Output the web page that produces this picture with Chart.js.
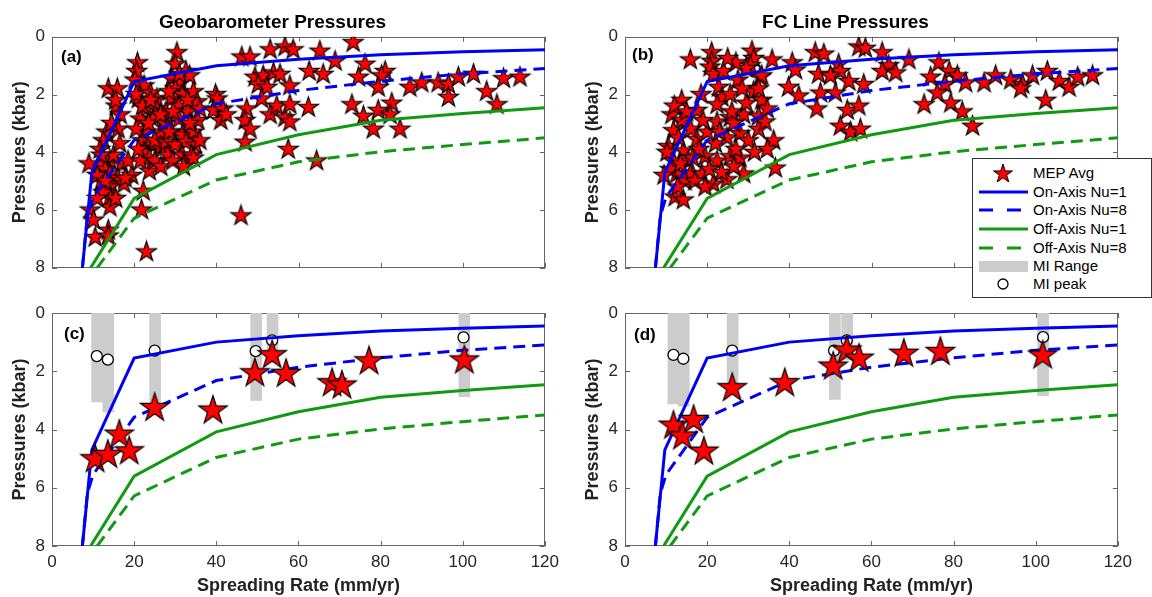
<!DOCTYPE html>
<html>
<head>
<meta charset="utf-8">
<script src="https://cdn.jsdelivr.net/npm/chart.js@4.4.0/dist/chart.umd.min.js"></script>
<style>
  body { margin: 0; background: #fff; width: 1152px; height: 597px; overflow: hidden; position: relative;
         font-family: "Liberation Sans", Arial, Helvetica, sans-serif; }
  canvas { position: absolute; }
  .tag { position: absolute; font-weight: bold; font-size: 17px; color: #000; line-height: 17px; }
  #legend { position: absolute; left: 972px; top: 158px; width: 178px; height: 138px; border: 1px solid #333;
            background: #fff; font-size: 15px; color: #000; z-index: 5; }
  .row { position: absolute; left: 0; width: 178px; height: 18px; }
  .row svg { position: absolute; left: 6px; top: 0; }
  .row span { position: absolute; left: 60px; top: 0; line-height: 18px; }
</style>
</head>
<body>
<canvas id="pa" width="565" height="285" style="left:0;top:0"></canvas>
<canvas id="pb" width="565" height="285" style="left:573px;top:0"></canvas>
<canvas id="pc" width="565" height="307" style="left:0;top:290px"></canvas>
<canvas id="pd" width="565" height="307" style="left:573px;top:290px"></canvas>

<div class="tag" style="left:61px;top:48px">(a)</div>
<div class="tag" style="left:632px;top:46px">(b)</div>
<div class="tag" style="left:64px;top:325px">(c)</div>
<div class="tag" style="left:634px;top:326px">(d)</div>

<div id="legend">
  <div class="row" style="top:5px"><svg width="50" height="18"><polygon id="legStar" fill="#ff0000" stroke="#000" stroke-width="1"/></svg><span>MEP Avg</span></div>
  <div class="row" style="top:24px"><svg width="50" height="18"><line x1="0" y1="9" x2="49" y2="9" stroke="#0000f5" stroke-width="3"/></svg><span>On-Axis Nu=1</span></div>
  <div class="row" style="top:42px"><svg width="50" height="18"><line x1="0" y1="9" x2="49" y2="9" stroke="#0000f5" stroke-width="3" stroke-dasharray="14 14"/></svg><span>On-Axis Nu=8</span></div>
  <div class="row" style="top:61px"><svg width="50" height="18"><line x1="0" y1="9" x2="49" y2="9" stroke="#119a11" stroke-width="3"/></svg><span>Off-Axis Nu=1</span></div>
  <div class="row" style="top:80px"><svg width="50" height="18"><line x1="0" y1="9" x2="49" y2="9" stroke="#119a11" stroke-width="3" stroke-dasharray="14 14"/></svg><span>Off-Axis Nu=8</span></div>
  <div class="row" style="top:98px"><svg width="50" height="18"><rect x="0" y="4" width="49" height="11" fill="#cccccc"/></svg><span>MI Range</span></div>
  <div class="row" style="top:116px"><svg width="50" height="18"><circle cx="24" cy="9" r="5" fill="#fff" stroke="#000" stroke-width="1.3"/></svg><span>MI peak</span></div>
</div>

<script>
// ---- model curves (same in every panel) ----
const onNu1Rate  = [7.4, 9.7, 20, 40, 60, 80, 100, 120];
const onNu1P     = [8.0, 4.7, 1.55, 1.0, 0.78, 0.62, 0.52, 0.45];
const onNu8Rate  = [7.4, 8.6, 10, 20, 40, 60, 80, 100, 120];
const onNu8P     = [8.0, 6.2, 5.55, 3.58, 2.32, 1.86, 1.54, 1.28, 1.1];
const offNu1Rate = [9.4, 20, 40, 60, 80, 100, 120];
const offNu1P    = [8.0, 5.6, 4.08, 3.39, 2.89, 2.66, 2.46];
const offNu8Rate = [11, 20, 40, 60, 80, 100, 120];
const offNu8P    = [8.0, 6.28, 4.96, 4.33, 3.98, 3.73, 3.5];

// ---- (a) geobarometer pressures, all samples ----
const aRate = [13.7,15.9,15.6,16.6,13.3,16.1,12.5,14.5,11.7,14.1,11.7,17.0,13.0,14.1,19.4,16.0,12.0,14.1,17.5,14.1,
  12.5,9.3,14.1,10.1,13.7,10.5,13.7,23.0,22.2,21.8,15.0,18.5,16.5,9.0,11.0,15.5,
  12.0,13.0,15.5,11.0,17.8,
  20.8,20.6,22.4,21.0,25.5,22.8,21.5,25.5,22.4,24.6,26.4,21.9,24.6,22.4,23.7,21.5,23.7,26.4,20.5,24.0,20.5,25.0,
  22.0,23.5,25.0,21.0,26.5,24.0,20.2,27.5,
  30.4,30.0,32.6,29.1,31.3,30.0,31.7,34.4,35.3,29.1,30.9,27.7,33.1,30.9,34.0,29.1,31.7,34.4,27.7,30.0,32.6,34.9,
  28.2,31.7,34.0,29.4,34.4,26.4,33.5,28.5,
  33.0,35.5,32.0,28.5,33.5,29.5,31.0,36.0,36.0,
  39.8,40.2,39.3,41.6,41.1,42.4,
  46.2,48.2,53.1,56.7,58.7,65.2,49.4,51.4,53.9,55.5,50.2,52.3,57.9,62.6,66.0,47.4,47.0,48.2,47.0,51.0,53.1,54.7,
  56.7,57.9,57.9,62.4,57.5,64.4,46.0,
  73.3,68.9,76.2,74.6,81.1,80.2,79.4,87.1,90.0,94.0,96.5,98.9,102.6,109.9,113.9,105.8,96.5,108.3,73.0,75.8,79.4,
  82.7,82.3,78.2,84.7];
const aP = [1.8,1.8,2.4,2.7,3.3,3.2,3.6,3.0,3.9,4.3,4.45,4.4,4.6,4.75,4.8,4.9,5.0,5.2,5.1,5.55,
  5.4,6.0,5.9,6.35,6.7,6.95,6.9,7.45,5.35,6.0,4.1,4.3,3.7,4.4,4.8,2.2,
  4.1,5.0,5.6,5.6,4.9,
  0.9,1.2,1.7,2.15,2.15,2.5,2.85,2.5,3.3,2.85,3.3,3.6,3.75,4.0,4.2,4.3,4.65,3.85,2.0,1.95,3.2,4.3,
  2.4,3.0,3.6,3.9,4.5,2.2,1.5,3.0,
  0.55,0.95,1.2,1.45,1.6,1.8,2.0,1.9,2.25,2.15,2.4,2.6,2.6,2.85,3.05,3.3,3.4,3.3,3.65,3.75,3.65,3.75,
  4.1,4.1,4.1,4.3,4.2,2.7,1.35,1.9,
  2.2,2.9,4.5,3.3,3.0,2.6,1.3,3.6,2.5,
  2.0,2.15,2.55,2.5,2.9,2.7,
  0.7,0.7,0.45,0.35,0.45,0.5,1.4,1.35,1.25,1.3,1.65,1.75,1.7,1.2,1.3,2.5,2.9,3.2,3.65,2.15,2.7,2.4,
  2.8,2.35,2.95,2.45,3.9,4.3,6.2,
  0.2,0.85,0.95,1.4,1.2,1.35,1.75,1.75,1.6,1.6,1.65,1.4,1.3,1.45,1.4,1.9,2.1,2.35,2.35,2.75,2.55,
  2.3,2.7,3.2,3.2];

// ---- (b) FC line pressures, all samples ----
const bRate = [15.9,21.1,21.1,20.7,21.5,30.9,31.3,30.5,32.9,31.3,33.3,22.8,23.6,25.6,22.4,13.8,11.4,13.8,17.5,25.6,
  22.4,28.9,32.5,11.8,17.5,22.0,24.8,28.0,14.2,11.8,15.4,19.5,22.4,25.6,28.0,12.6,15.9,21.5,24.8,12.2,
  14.2,14.6,18.7,28.9,10.5,13.0,20.0,26.5,30.0,27.5,29.5,24.0,
  10.2,11.0,12.8,13.5,16.5,17.0,18.0,19.5,20.5,23.5,26.5,27.0,23.0,19.0,16.0,12.0,15.0,18.5,26.0,29.5,
  27.0,25.0,28.5,31.5,32.5,9.5,
  35.8,40.7,41.5,46.3,48.4,52.0,52.4,56.9,58.5,62.6,64.2,62.6,65.9,47.1,50.0,54.5,58.1,39.8,42.3,47.6,
  51.2,46.7,54.1,56.9,52.4,54.9,57.3,34.1,34.6,36.2,34.6,36.6,33.3,32.5,
  69.1,76.4,78.9,74.4,80.9,77.9,82.9,76.0,79.3,72.8,82.1,84.6,87.4,90.2,93.9,96.8,96.3,99.2,102.8,102.4,
  105.7,108.1,110.2,113.8];
const bP = [0.8,0.55,0.85,1.05,1.3,0.5,0.75,1.0,1.4,1.9,2.2,1.75,2.1,2.0,2.35,2.2,2.7,2.9,2.55,2.8,
  2.95,2.7,2.75,3.25,3.55,3.7,3.5,3.35,3.95,4.3,4.3,4.15,4.3,4.15,4.2,4.75,4.75,5.1,4.95,5.55,
  5.65,5.0,4.75,4.75,3.8,3.5,3.3,3.0,3.6,1.5,2.3,1.2,
  4.0,4.6,5.2,4.4,4.2,5.0,3.9,5.2,4.6,4.7,4.5,3.9,3.3,2.9,3.2,2.4,2.6,2.0,2.6,1.1,
  0.9,0.75,1.8,4.0,3.2,4.8,
  0.8,0.9,1.15,0.55,0.6,0.95,1.2,0.35,0.4,0.55,1.0,1.2,1.25,1.3,1.35,1.55,1.65,1.75,2.05,1.95,
  1.95,2.5,2.55,2.4,3.1,3.3,3.2,2.95,2.5,3.6,3.9,4.55,1.35,1.8,
  0.8,0.9,1.2,1.4,1.35,1.65,1.6,1.95,2.3,2.35,2.6,3.1,1.6,1.35,1.5,1.65,1.8,1.35,1.2,2.2,
  1.55,1.75,1.4,1.35];

// ---- (c) geobarometer segment averages and melt inclusions ----
const cRate = [10.5, 13.6, 16.4, 18.8, 25.0, 39.2, 49.4, 53.6, 57.0, 68.2, 70.6, 77.2, 100.4];
const cP    = [5.02, 4.87, 4.18, 4.75, 3.26, 3.35, 2.07, 1.45, 2.09, 2.41, 2.49, 1.66, 1.63];
const cMIRate = [11.0, 13.7, 25.1, 49.7, 53.7, 100.4];
const cMIMin  = [0, 0, 0, 0, 0, 0];
const cMIMax  = [3.05, 3.4, 3.05, 3.0, 1.7, 2.87];
const cPeakRate = [10.9, 13.6, 25.0, 49.6, 53.6, 100.2];
const cPeakP    = [1.48, 1.6, 1.29, 1.31, 0.94, 0.84];

// ---- (d) FC line segment averages and melt inclusions ----
const dRate = [11.8, 14.0, 16.7, 19.2, 26.1, 38.9, 50.7, 54.0, 57.0, 67.9, 76.8, 101.7];
const dP    = [3.87, 4.24, 3.67, 4.76, 2.58, 2.41, 1.84, 1.29, 1.57, 1.40, 1.34, 1.46];
const dMIRate = [11.8, 14.3, 26.2, 51.1, 54.1, 101.8];
const dMIMin  = [0, 0, 0, 0, 0, 0];
const dMIMax  = [3.12, 3.2, 2.4, 2.97, 1.6, 2.84];
const dPeakRate = [11.8, 14.2, 26.1, 50.9, 54.0, 101.8];
const dPeakP    = [1.44, 1.57, 1.29, 1.29, 0.94, 0.83];

const FONT = '"Liberation Sans", Arial, Helvetica, sans-serif';
const BLUE = '#0000f5';
const GREEN = '#119a11';

function makeStar(R) {
  const c = document.createElement('canvas');
  const s = Math.ceil(R * 2 + 4);
  c.width = s; c.height = s;
  const g = c.getContext('2d');
  g.translate(s / 2, s / 2);
  g.beginPath();
  for (let i = 0; i < 10; i++) {
    const r = i % 2 ? R * 0.382 : R;
    const a = -Math.PI / 2 + i * Math.PI / 5;
    g.lineTo(r * Math.cos(a), r * Math.sin(a));
  }
  g.closePath();
  g.fillStyle = '#ff0000';
  g.fill();
  g.lineWidth = 1.2;
  g.strokeStyle = '#000';
  g.stroke();
  return c;
}
const smallStar = makeStar(10.5);
const bigStar = makeStar(15);

// legend star
(function () {
  const pts = [];
  for (let i = 0; i < 10; i++) {
    const r = i % 2 ? 10 * 0.382 : 10;
    const a = -Math.PI / 2 + i * Math.PI / 5;
    pts.push((24 + r * Math.cos(a)).toFixed(2) + ',' + (10 + r * Math.sin(a)).toFixed(2));
  }
  document.getElementById('legStar').setAttribute('points', pts.join(' '));
})();

const pairs = (xs, ys) => xs.map((x, i) => ({ x: x, y: ys[i] }));

// matlab style box with inward ticks
const boxPlugin = {
  id: 'box',
  beforeDatasetsDraw(chart) {
    const { ctx, chartArea: a, scales: { x, y } } = chart;
    ctx.save();
    ctx.strokeStyle = '#666';
    ctx.lineWidth = 1;
    ctx.strokeRect(Math.round(a.left) + 0.5, Math.round(a.top) + 0.5,
                   Math.round(a.width) - 1, Math.round(a.height) - 1);
    ctx.beginPath();
    x.ticks.forEach(t => {
      const px = Math.round(x.getPixelForValue(t.value)) + 0.5;
      ctx.moveTo(px, a.bottom); ctx.lineTo(px, a.bottom - 5);
      ctx.moveTo(px, a.top); ctx.lineTo(px, a.top + 5);
    });
    y.ticks.forEach(t => {
      const py = Math.round(y.getPixelForValue(t.value)) + 0.5;
      ctx.moveTo(a.left, py); ctx.lineTo(a.left + 5, py);
      ctx.moveTo(a.right, py); ctx.lineTo(a.right - 5, py);
    });
    ctx.stroke();
    ctx.restore();
  }
};

function modelSets(order) {
  const mk = (xs, ys, color, dash) => ({
    type: 'line', data: pairs(xs, ys), borderColor: color, borderWidth: 3, borderDash: dash,
    pointRadius: 0, fill: false, tension: 0, clip: 0, order: order
  });
  return [
    mk(onNu1Rate, onNu1P, BLUE, []),
    mk(onNu8Rate, onNu8P, BLUE, [12, 7]),
    mk(offNu1Rate, offNu1P, GREEN, []),
    mk(offNu8Rate, offNu8P, GREEN, [12, 7])
  ];
}

function panel(id, opts) {
  const datasets = [];
  if (opts.miRate) {
    datasets.push({
      type: 'bar',
      data: opts.miRate.map((x, i) => ({ x: x, y: [opts.miMin[i], opts.miMax[i]] })),
      backgroundColor: '#cccccc', borderWidth: 0, barThickness: 11, grouped: false, order: 10
    });
    datasets.push({
      type: 'scatter', data: pairs(opts.peakRate, opts.peakP),
      pointStyle: 'circle', pointRadius: 5.5, pointBackgroundColor: '#fff',
      pointBorderColor: '#000', pointBorderWidth: 1.3, order: 4
    });
  }
  modelSets(opts.bottom ? 3 : 1).forEach(d => datasets.push(d));
  datasets.push({
    type: 'scatter', data: pairs(opts.rate, opts.p),
    pointStyle: opts.bottom ? bigStar : smallStar, order: opts.bottom ? 1 : 2
  });

  new Chart(document.getElementById(id), {
    type: 'scatter',
    data: { datasets: datasets },
    options: {
      responsive: false,
      animation: false,
      devicePixelRatio: 1,
      layout: { padding: { top: opts.bottom ? 23 : 0, right: 20, left: 0, bottom: 0 } },
      plugins: {
        legend: { display: false },
        tooltip: { enabled: false },
        title: {
          display: !!opts.title,
          text: opts.title || '',
          color: '#000',
          font: { family: FONT, size: 19, weight: 'bold' },
          padding: { top: 11, bottom: 3 }
        }
      },
      scales: {
        x: {
          type: 'linear', min: 0, max: 120, offset: false,
          grid: { display: false, drawTicks: false },
          border: { display: false },
          ticks: { display: !!opts.bottom, stepSize: 20, padding: 6, color: '#262626',
                   font: { family: FONT, size: 17 } },
          title: { display: !!opts.bottom, text: 'Spreading Rate (mm/yr)', color: '#222',
                   font: { family: FONT, size: 18, weight: 'bold' }, padding: { top: 0, bottom: 0 } },
          afterFit: s => { s.height = opts.bottom ? 51 : 15; }
        },
        y: {
          type: 'linear', min: 0, max: 8, reverse: true,
          grid: { display: false, drawTicks: false },
          border: { display: false },
          ticks: { stepSize: 2, padding: 7, color: '#262626', font: { family: FONT, size: 17 } },
          title: { display: true, text: 'Pressures (kbar)', color: '#222',
                   font: { family: FONT, size: 18, weight: 'bold' }, padding: { top: 9, bottom: 0 } },
          afterFit: s => { s.width = 52; }
        }
      }
    },
    plugins: [boxPlugin]
  });
}

panel('pa', { title: 'Geobarometer Pressures', rate: aRate, p: aP });
panel('pb', { title: 'FC Line Pressures', rate: bRate, p: bP });
panel('pc', { bottom: true, rate: cRate, p: cP, miRate: cMIRate, miMin: cMIMin, miMax: cMIMax,
              peakRate: cPeakRate, peakP: cPeakP });
panel('pd', { bottom: true, rate: dRate, p: dP, miRate: dMIRate, miMin: dMIMin, miMax: dMIMax,
              peakRate: dPeakRate, peakP: dPeakP });
</script>
</body>
</html>
